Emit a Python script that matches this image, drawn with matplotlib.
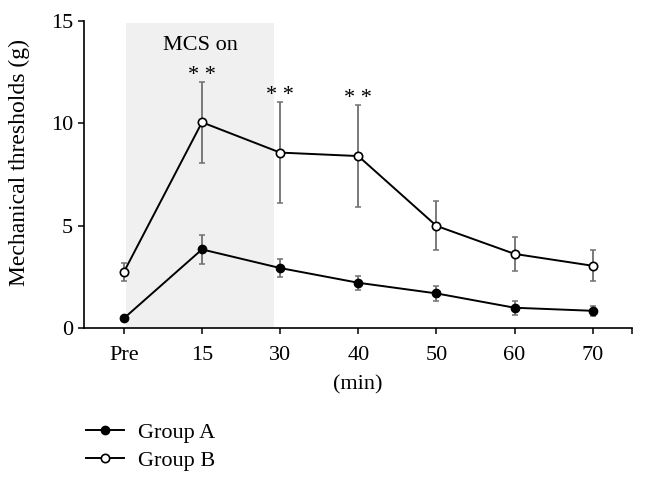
import matplotlib
matplotlib.use("Agg")
import matplotlib.pyplot as plt

categories = ["Pre", "15", "30", "40", "50", "60", "70"]
group_a = [0.47, 3.84, 2.93, 2.21, 1.69, 0.99, 0.84]
group_a_err = [0.05, 0.69, 0.42, 0.33, 0.37, 0.34, 0.24]
group_b = [2.73, 10.05, 8.57, 8.40, 4.99, 3.62, 3.04]
group_b_err = [0.45, 1.97, 2.45, 2.48, 1.20, 0.83, 0.75]
sig_idx = [1, 2, 3]
sig_labels = ["* *", "* *", "* *"]

plt.rcParams['font.family'] = ['Liberation Serif', 'DejaVu Serif']

fig = plt.figure(figsize=(6.46, 4.82), dpi=100)
ax = fig.add_axes([0.130, 0.3195, 0.848, 0.637])
x = list(range(len(categories)))

ax.axvspan(0.03, 1.92, ymin=0, ymax=(15 - 0.1) / 15, color="#f0f0f0", zorder=0, lw=0)
ax.text(0.975, 13.8, "MCS on", ha="center", va="center", fontsize=16)

ax.errorbar(x, group_a, yerr=group_a_err, fmt="none", ecolor="#707070", elinewidth=1.3, capsize=2.5, capthick=1.1, zorder=2)
ax.errorbar(x, group_b, yerr=group_b_err, fmt="none", ecolor="#707070", elinewidth=1.3, capsize=2.5, capthick=1.1, zorder=2)
ax.plot(x, group_a, color="black", lw=1.4, marker="o", markersize=6, markerfacecolor="black", markeredgecolor="black", label="Group A", zorder=3)
ax.plot(x, group_b, color="black", lw=1.4, marker="o", markersize=6, markerfacecolor="white", markeredgecolor="black", markeredgewidth=1.2, label="Group B", zorder=3)

for i, lab in zip(sig_idx, sig_labels):
    ax.text(i, group_b[i] + group_b_err[i] + 0.12, lab, ha="center", va="baseline", fontsize=16)

ax.set_xlim(-0.51, 6.5)
ax.set_ylim(0, 15)
ax.set_xticks(x + [6.5])
ax.set_xticklabels(categories + [""])
ax.set_yticks([0, 5, 10, 15])
ax.spines["top"].set_visible(False)
ax.spines["right"].set_visible(False)
ax.spines["left"].set_linewidth(1.2)
ax.spines["bottom"].set_linewidth(1.2)
ax.tick_params(axis="both", labelsize=16, length=4, width=1.1, direction="out")
ax.tick_params(axis="x", pad=9)
ax.tick_params(axis="y", pad=4)
ax.set_ylabel("Mechanical thresholds (g)", fontsize=17)
ax.yaxis.set_label_coords(-0.098, 0.54)
ax.set_xlabel("(min)", fontsize=16, labelpad=7)

fig.legend(loc="upper left", bbox_to_anchor=(0.12, 0.142), frameon=False, fontsize=16,
           handlelength=1.7, handletextpad=0.6, labelspacing=0.33, borderaxespad=0)

fig.savefig("out.png", dpi=100)
